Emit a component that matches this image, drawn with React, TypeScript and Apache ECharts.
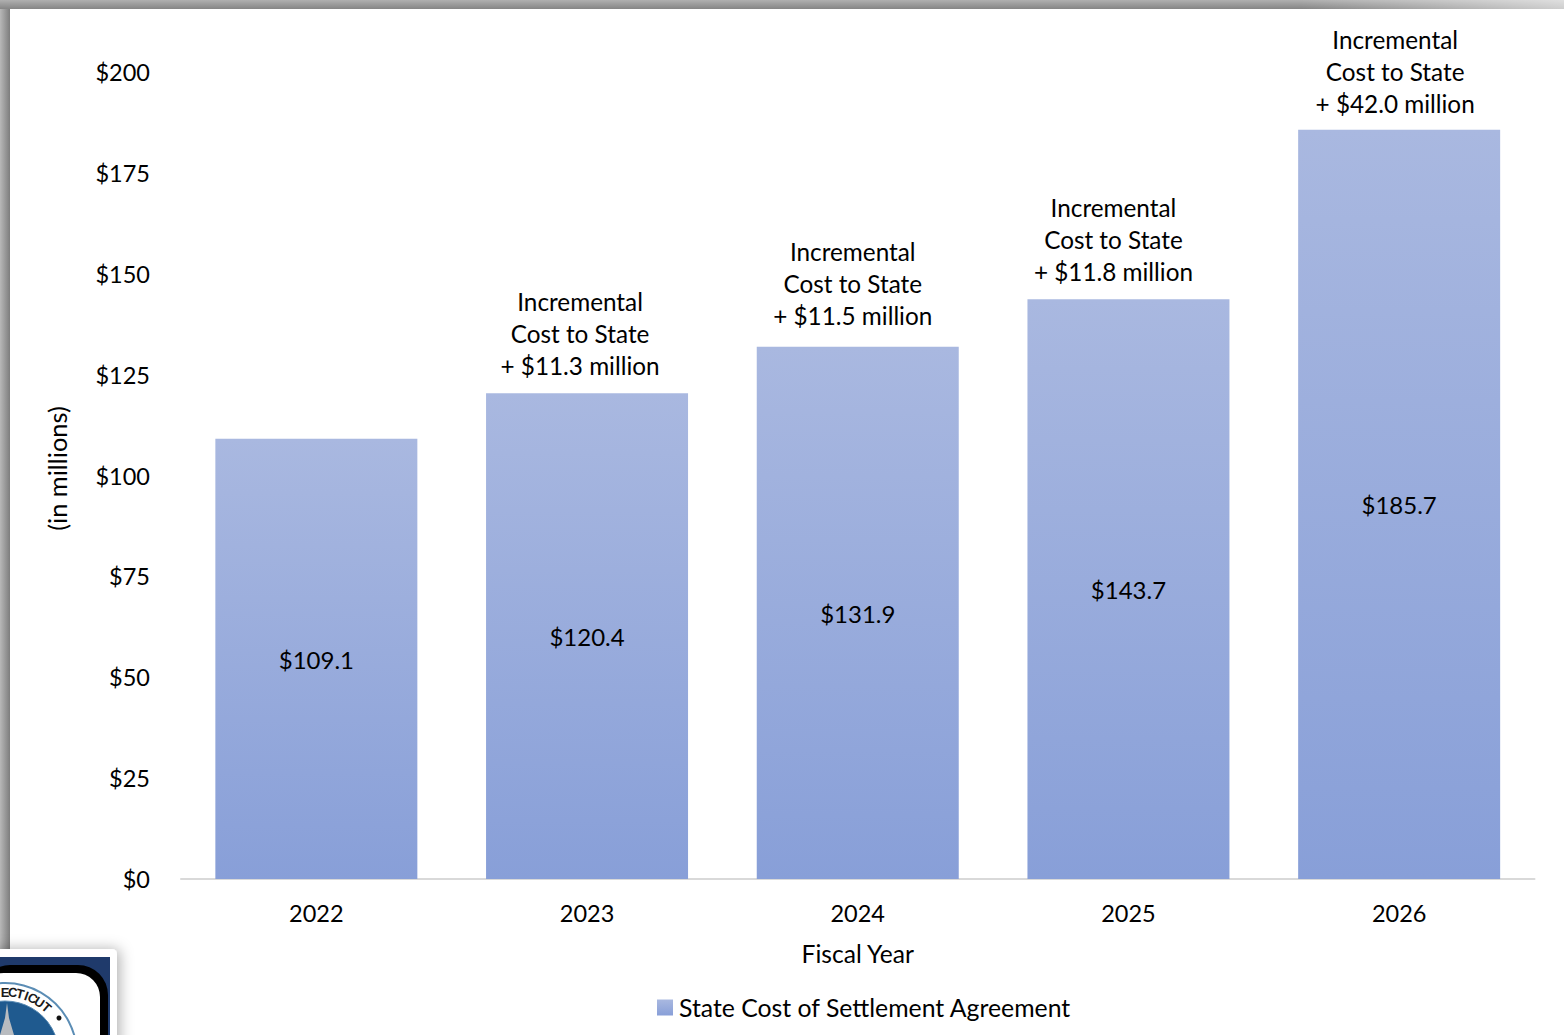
import React, { useEffect, useRef } from "react";
import * as echarts from "echarts";

const fiscalYears = ["2022", "2023", "2024", "2025", "2026"];
const stateCost = [109.1, 120.4, 131.9, 143.7, 185.7];
const incrementalCost: (number | null)[] = [null, 11.3, 11.5, 11.8, 42.0];
const noteOffsets = [[0, 0], [-7, -7], [-5, -10], [-15, -7], [-4, -5]];
const yTicks = [0, 25, 50, 75, 100, 125, 150, 175, 200];
const sealLetters = ["E", "C", "T", "I", "C", "U", "T"];
const sealLetterAngles = [0, 7, 14, 20, 26, 33, 41];

const FONT = "Lato, Carlito, Calibri, sans-serif";

// Bars fade from a pale periwinkle at the top to a deeper blue at the base.
const barFill = () =>
  new echarts.graphic.LinearGradient(0, 0, 0, 1, [
    { offset: 0, color: "#a9b8e0" },
    { offset: 1, color: "#889fd8" },
  ]);

// Shaded slide edge along the top and left, plus the seal in the corner.
function frameAndSeal() {
  const cx = 5;
  const cy = 1055;
  const letters = sealLetters.map((ch, i) => {
    const a = (sealLetterAngles[i] * Math.PI) / 180;
    return {
      type: "text",
      x: cx + 63 * Math.sin(a),
      y: cy - 63 * Math.cos(a),
      rotation: -a,
      z: 14,
      style: {
        text: ch,
        font: `bold 13px "Liberation Sans", sans-serif`,
        fill: "#1a1a1a",
        textAlign: "center",
        textVerticalAlign: "middle",
      },
    };
  });
  return [
    {
      type: "rect",
      z: 10,
      shape: { x: 0, y: 0, width: 10, height: 950 },
      style: {
        fill: new echarts.graphic.LinearGradient(0, 0, 1, 0, [
          { offset: 0, color: "#b8b8b8" },
          { offset: 1, color: "#7d7d7d" },
        ]),
      },
    },
    {
      type: "rect",
      z: 11,
      shape: { x: 0, y: 0, width: 1564, height: 9 },
      style: {
        fill: new echarts.graphic.LinearGradient(0, 0, 0, 1, [
          { offset: 0, color: "#b0b0b0" },
          { offset: 1, color: "#858585" },
        ]),
      },
    },
    {
      type: "rect",
      z: 11,
      shape: { x: 1300, y: 0, width: 264, height: 9 },
      style: {
        fill: new echarts.graphic.LinearGradient(0, 0, 1, 0, [
          { offset: 0, color: "rgba(255,255,255,0)" },
          { offset: 1, color: "rgba(255,255,255,0.6)" },
        ]),
      },
    },
    {
      type: "rect",
      z: 12,
      shape: { x: -10, y: 949, width: 127, height: 110, r: 5 },
      style: { fill: "#ffffff", shadowBlur: 14, shadowColor: "rgba(0,0,0,0.3)", shadowOffsetX: 3 },
    },
    {
      type: "rect",
      z: 12,
      shape: { x: -10, y: 957, width: 120, height: 100 },
      style: { fill: "#1f3a6b" },
    },
    {
      type: "rect",
      z: 12,
      shape: { x: -20, y: 965, width: 128, height: 100, r: 30 },
      style: { fill: "#000000" },
    },
    {
      type: "rect",
      z: 12,
      shape: { x: -20, y: 973, width: 120, height: 90, r: 24 },
      style: { fill: "#ffffff" },
    },
    {
      type: "circle",
      z: 13,
      shape: { cx, cy, r: 72 },
      style: { fill: "#ffffff", stroke: "#5b8db5", lineWidth: 2 },
    },
    {
      type: "circle",
      z: 13,
      shape: { cx, cy, r: 54 },
      style: { fill: "#1f5a8f", stroke: "#5b8db5", lineWidth: 1 },
    },
    {
      type: "polygon",
      z: 14,
      shape: { points: [[7, 1003], [9, 1018], [14, 1035], [0, 1035], [5, 1018]] },
      style: { fill: "#b9bcc0" },
    },
    {
      type: "circle",
      z: 14,
      shape: { cx: 59, cy: 1018, r: 2.5 },
      style: { fill: "#111111" },
    },
    ...letters,
  ];
}

export default function App() {
  const ref = useRef<HTMLDivElement>(null);

  useEffect(() => {
    document.body.style.margin = "0";
    const chart = echarts.init(ref.current!, null, { renderer: "svg" });
    chart.setOption({
      animation: false,
      backgroundColor: "#ffffff",
      textStyle: { fontFamily: FONT, color: "#000000" },
      grid: { left: 181, right: 29.5, top: 72, bottom: 156, containLabel: false },
      legend: {
        show: true,
        bottom: 10,
        left: 652,
        itemWidth: 16,
        itemHeight: 16,
        itemGap: 6,
        icon: "rect",
        selectedMode: false,
        data: ["State Cost of Settlement Agreement"],
        textStyle: { fontFamily: FONT, fontSize: 24.8, color: "#000000", padding: [0, 0, 0, 1] },
      },
      xAxis: {
        type: "category",
        data: fiscalYears,
        name: "Fiscal Year",
        nameLocation: "middle",
        nameGap: 62,
        nameTextStyle: { fontFamily: FONT, fontSize: 24.6, color: "#000000" },
        axisTick: { show: false },
        axisLine: { lineStyle: { color: "#d9d9d9", width: 2 } },
        axisLabel: { fontFamily: FONT, fontSize: 23.5, color: "#000000", margin: 22 },
      },
      yAxis: {
        type: "value",
        min: yTicks[0],
        max: yTicks[yTicks.length - 1],
        interval: 25,
        name: "(in millions)",
        nameLocation: "middle",
        nameRotate: 90,
        nameGap: 112,
        nameTextStyle: { fontFamily: FONT, fontSize: 25.4, color: "#000000", padding: [0, 0, 0, 14] },
        axisLine: { show: false },
        axisTick: { show: false },
        splitLine: { show: false },
        axisLabel: {
          fontFamily: FONT,
          fontSize: 23.5,
          color: "#000000",
          margin: 31,
          padding: [0, 0, 7, 0],
          formatter: (v: number) => `$${v}`,
        },
      },
      series: [
        {
          name: "State Cost of Settlement Agreement",
          type: "bar",
          barWidth: 202,
          data: stateCost,
          itemStyle: { color: barFill() },
          label: {
            show: true,
            position: "inside",
            offset: [0, 0.5],
            fontFamily: FONT,
            fontSize: 24,
            color: "#000000",
            formatter: (p: { value: number }) => `$${p.value.toFixed(1)}`,
          },
        },
        {
          name: "Incremental cost note",
          type: "scatter",
          symbolSize: 0,
          silent: true,
          itemStyle: { opacity: 1 },
          data: stateCost.map((v, i) => ({
            value: v,
            label: {
              show: incrementalCost[i] !== null,
              position: "top",
              offset: noteOffsets[i],
              fontFamily: FONT,
              fontSize: 24.3,
              lineHeight: 32,
              color: "#000000",
              opacity: 1,
              align: "center",
              formatter: () =>
                `Incremental\nCost to State\n+ $${(incrementalCost[i] ?? 0).toFixed(1)} million`,
            },
          })),
        },
      ],
      graphic: { elements: frameAndSeal() },
    });
    return () => chart.dispose();
  }, []);

  return (
    <div
      ref={ref}
      style={{ position: "absolute", left: 0, top: 0, width: 1564, height: 1035, overflow: "hidden" }}
    />
  );
}
